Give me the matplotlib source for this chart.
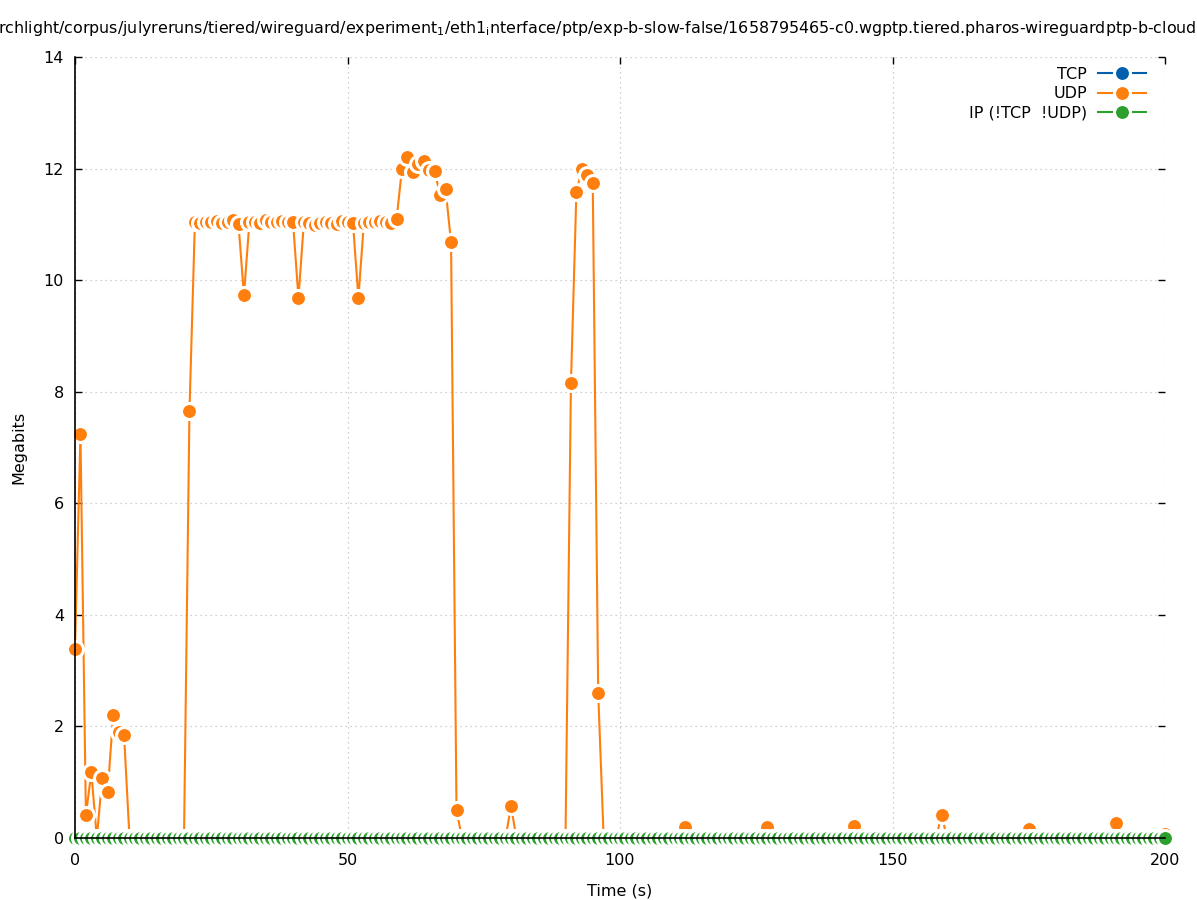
import matplotlib.pyplot as plt

plt.rcParams['font.family'] = ['DejaVu Sans']

# time in seconds, one sample per second
t = list(range(0, 201))

# UDP megabits per second
udp = [3.39, 7.24, 0.41, 1.18, 0.00, 1.08, 0.83, 2.20, 1.90, 1.85,
       0.00, 0.00, 0.00, 0.00, 0.00, 0.00, 0.00, 0.00, 0.00, 0.00,
       0.00, 7.65, 11.04, 11.02, 11.05, 11.04, 11.06, 11.03, 11.04, 11.07,
       11.00, 9.73, 11.04, 11.05, 11.03, 11.07, 11.04, 11.05, 11.06, 11.04,
       11.05, 9.68, 11.04, 11.02, 10.98, 11.03, 11.05, 11.03, 11.01, 11.06,
       11.04, 11.03, 9.68, 11.02, 11.05, 11.04, 11.06, 11.05, 11.03, 11.09,
       12.00, 12.20, 11.93, 12.08, 12.13, 11.98, 11.95, 11.52, 11.63, 10.68,
       0.50, 0.00, 0.00, 0.00, 0.00, 0.00, 0.00, 0.00, 0.00, 0.00,
       0.57, 0.00, 0.00, 0.00, 0.00, 0.00, 0.00, 0.00, 0.00, 0.00,
       0.00, 8.15, 11.58, 12.00, 11.88, 11.74, 2.60, 0.00, 0.00, 0.00,
       0.00, 0.00, 0.00, 0.00, 0.00, 0.00, 0.00, 0.00, 0.00, 0.00,
       0.00, 0.00, 0.20, 0.00, 0.00, 0.00, 0.00, 0.00, 0.00, 0.00,
       0.05, 0.00, 0.00, 0.00, 0.05, 0.00, 0.00, 0.20, 0.00, 0.00,
       0.00, 0.00, 0.00, 0.00, 0.00, 0.00, 0.00, 0.00, 0.00, 0.00,
       0.00, 0.00, 0.00, 0.22, 0.00, 0.00, 0.00, 0.00, 0.00, 0.00,
       0.00, 0.00, 0.00, 0.00, 0.00, 0.00, 0.00, 0.00, 0.00, 0.42,
       0.00, 0.00, 0.00, 0.00, 0.00, 0.00, 0.00, 0.00, 0.00, 0.00,
       0.00, 0.00, 0.00, 0.00, 0.00, 0.17, 0.00, 0.00, 0.00, 0.00,
       0.00, 0.00, 0.00, 0.00, 0.00, 0.00, 0.00, 0.00, 0.00, 0.00,
       0.00, 0.27, 0.00, 0.00, 0.00, 0.00, 0.00, 0.00, 0.00, 0.00,
       0.08]

# TCP and other IP traffic stay at zero the whole run
tcp = [0.0] * 201
ip_other = [0.0] * 201

series = [("TCP", tcp, "#0060ad"),
          ("UDP", udp, "#ff7f0e"),
          ("IP (!TCP  !UDP)", ip_other, "#2ca02c")]

title = ("rchlight/corpus/julyreruns/tiered/wireguard/experiment$_1$/eth1$_\\mathregular{i}$nterface"
         "/ptp/exp-b-slow-false/1658795465-c0.wgptp.tiered.pharos-wireguardptp-b-cloudlab")

W, H = 1197, 900
fig = plt.figure(figsize=(W / 100, H / 100), dpi=100)
ax = fig.add_axes([75 / W, 1 - 838 / H, (1165 - 75) / W, (838 - 57) / H])

# gnuplot style: filled dots with a white halo that cuts the line
for i, (name, vals, col) in enumerate(series):
    ax.plot(t, vals, color=col, lw=1.5, marker="o", markersize=11.5,
            markerfacecolor=col, markeredgecolor="white", markeredgewidth=2.2,
            label=name, clip_on=False, zorder=2 + i * 0.1)

ax.set_xlim(0, 200)
ax.set_ylim(0, 14)
ax.set_xticks(range(0, 201, 50))
ax.set_yticks(range(0, 15, 2))
ax.tick_params(direction="in", length=5, width=1, top=True, right=True,
               labelsize=11.5)
ax.tick_params(axis="x", pad=11)
ax.tick_params(axis="y", pad=8)
ax.spines["top"].set_visible(False)
ax.spines["right"].set_visible(False)
for s in ["left", "bottom"]:
    ax.spines[s].set_linewidth(1.2)
ax.grid(True, color="#c0c0c0", linestyle=(0, (1, 3)), linewidth=0.9)

ax.set_xlabel("Time (s)", fontsize=11.5, labelpad=11)
ax.set_ylabel("Megabits", fontsize=11.5, labelpad=12)

leg = ax.legend(loc="upper right", bbox_to_anchor=((1146 - 75) / 1090, (838 - 67) / 781),
                frameon=False, markerfirst=False, fontsize=11.5, handlelength=3.0,
                handletextpad=0.7, labelspacing=0.27, borderpad=0, borderaxespad=0)

fig.text(-2 / W, 1 - 28 / H, title, ha="left", va="center", fontsize=11.4)

fig.savefig("out.png", dpi=100)
